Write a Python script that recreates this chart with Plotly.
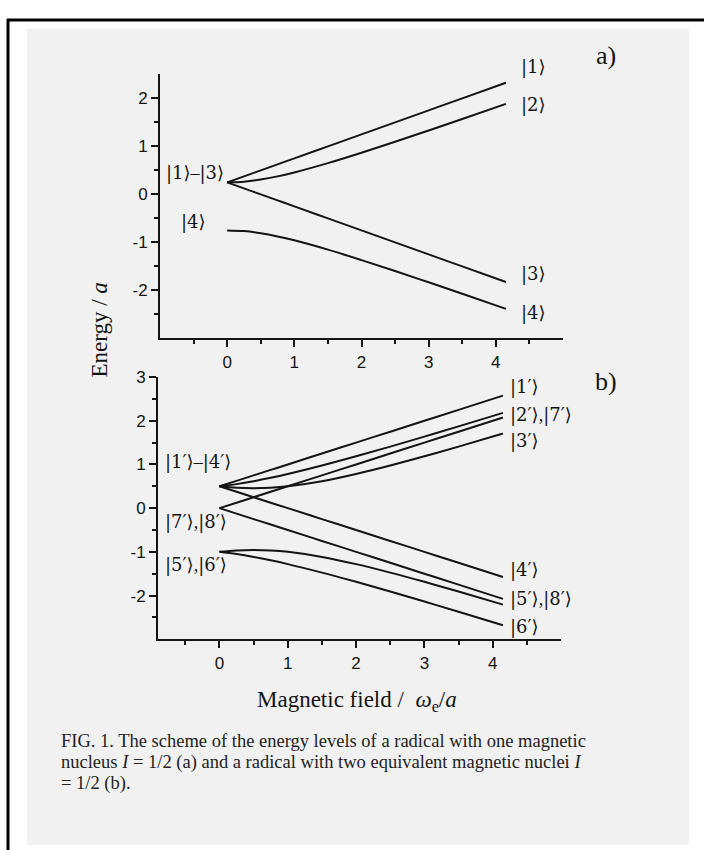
import plotly.graph_objects as go

W, H = 704, 850

# Magnetic field values (in units of a) at which the levels are sampled
field = [0, 0.25, 0.5, 0.75, 1, 1.5, 2, 2.5, 3, 3.5, 4.15]

# (a) one magnetic nucleus I = 1/2: energies in units of a
a_levels = {
    "1": [0.25, 0.375, 0.5, 0.625, 0.75, 1.0, 1.25, 1.5, 1.75, 2.0, 2.325],
    "2": [0.25, 0.265, 0.309, 0.375, 0.457, 0.651, 0.868, 1.096, 1.331, 1.570, 1.884],
    "3": [0.25, 0.125, 0.0, -0.125, -0.25, -0.5, -0.75, -1.0, -1.25, -1.5, -1.825],
    "4": [-0.75, -0.765, -0.809, -0.875, -0.957, -1.151, -1.368, -1.596, -1.831, -2.070, -2.384],
}

# (b) two equivalent magnetic nuclei I = 1/2
b_levels = {
    "1'": [0.5, 0.625, 0.75, 0.875, 1.0, 1.25, 1.5, 1.75, 2.0, 2.25, 2.575],
    "2'": [0.5, 0.550, 0.616, 0.694, 0.781, 0.975, 1.186, 1.408, 1.637, 1.871, 2.180],
    "3'": [0.5, 0.468, 0.457, 0.468, 0.5, 0.616, 0.781, 0.975, 1.186, 1.408, 1.707],
    "4'": [0.5, 0.375, 0.25, 0.125, 0.0, -0.25, -0.5, -0.75, -1.0, -1.25, -1.575],
    "5'": [-1.0, -0.968, -0.957, -0.968, -1.0, -1.116, -1.281, -1.475, -1.686, -1.908, -2.207],
    "6'": [-1.0, -1.050, -1.116, -1.194, -1.281, -1.475, -1.686, -1.908, -2.137, -2.371, -2.680],
    "7'": [0.0, 0.125, 0.25, 0.375, 0.5, 0.75, 1.0, 1.25, 1.5, 1.75, 2.075],
    "8'": [0.0, -0.125, -0.25, -0.375, -0.5, -0.75, -1.0, -1.25, -1.5, -1.75, -2.075],
}

x_major = [0, 1, 2, 3, 4]
x_minor = [-0.5, 0.5, 1.5, 2.5, 3.5, 4.5]
ya_major = [-2, -1, 0, 1, 2]
ya_minor = [-2.5, -1.5, -0.5, 0.5, 1.5]
yb_major = [-2, -1, 0, 1, 2, 3]
yb_minor = [-2.5, -1.5, -0.5, 0.5, 1.5, 2.5]

INK = "#141414"
SERIF = "Liberation Serif, Times New Roman, serif"
SANS = "Liberation Sans, Arial, sans-serif"


def ket(name):
    """Dirac ket |name⟩, drawn wholly in a serif face that carries the bracket."""
    return '<span style="font-family:DejaVu Serif">|' + name + "⟩</span>"


# State labels: (text, x, y, anchor, pixel shift up) in data units of each panel
a_labels = [
    (ket("1"), 4.35, 2.5, "left", 7),
    (ket("2"), 4.35, 1.86, "left", 0),
    (ket("3"), 4.35, -1.65, "left", 0),
    (ket("4"), 4.35, -2.47, "left", 0),
    (ket("1") + "–" + ket("3"), -0.02, 0.45, "right", 0),
    (ket("4"), -0.28, -0.58, "right", 0),
]
b_labels = [
    (ket("1′"), 4.22, 2.77, "left", 0),
    (ket("2′") + "," + ket("7′"), 4.22, 2.14, "left", 0),
    (ket("3′"), 4.22, 1.53, "left", 0),
    (ket("4′"), 4.22, -1.41, "left", 0),
    (ket("5′") + "," + ket("8′"), 4.22, -2.09, "left", 0),
    (ket("6′"), 4.22, -2.73, "left", 0),
    (ket("1′") + "–" + ket("4′"), -0.83, 1.05, "left", 0),
    (ket("7′") + "," + ket("8′"), -0.83, -0.31, "left", 0),
    (ket("5′") + "," + ket("6′"), -0.83, -1.30, "left", 0),
]


def px(x):
    return x / W


def py(y):
    return 1 - y / H


fig = go.Figure()

for vals in a_levels.values():
    fig.add_trace(go.Scatter(x=field, y=vals, mode="lines", xaxis="x", yaxis="y",
                             line=dict(color=INK, width=2, shape="spline"),
                             showlegend=False, hoverinfo="skip"))
for vals in b_levels.values():
    fig.add_trace(go.Scatter(x=field, y=vals, mode="lines", xaxis="x2", yaxis="y2",
                             line=dict(color=INK, width=2, shape="spline"),
                             showlegend=False, hoverinfo="skip"))


def axis(domain, rng, major, minor, anchor):
    return dict(
        domain=domain, range=rng, anchor=anchor,
        showline=True, linecolor=INK, linewidth=2,
        showgrid=False, zeroline=False,
        ticks="outside", ticklen=7, tickwidth=1.5, tickcolor=INK,
        tickvals=major, ticktext=[str(v) for v in major],
        tickfont=dict(family=SANS, size=17, color=INK),
        minor=dict(tickvals=minor, ticks="outside", ticklen=4,
                   tickwidth=1.5, tickcolor=INK, showgrid=False),
        fixedrange=True,
    )


fig.update_layout(
    width=W, height=H,
    margin=dict(l=0, r=0, t=0, b=0),
    paper_bgcolor="white",
    plot_bgcolor="rgba(0,0,0,0)",
    xaxis=axis([px(160), px(563)], [-1, 5], x_major, x_minor, "y"),
    yaxis=axis([py(333), py(66)], [-3, 2.5], ya_major, ya_minor, "x"),
    xaxis2=axis([px(158), px(561)], [-0.9, 5], x_major, x_minor, "y2"),
    yaxis2=axis([py(637), py(372)], [-3, 3], yb_major, yb_minor, "x2"),
)

# page background and frame
fig.add_shape(type="rect", xref="paper", yref="paper", layer="below",
              x0=px(27), x1=px(689), y0=py(845), y1=py(20),
              fillcolor="#f1f1f1", line=dict(width=0))
fig.add_shape(type="line", xref="paper", yref="paper",
              x0=px(7), x1=1, y0=py(11), y1=py(11),
              line=dict(color="black", width=3))
fig.add_shape(type="line", xref="paper", yref="paper",
              x0=px(8), x1=px(8), y0=py(10), y1=0,
              line=dict(color="black", width=3))

annotations = []
for text, x, y, anchor, shift in a_labels:
    annotations.append(dict(text=text, x=x, y=y, xref="x", yref="y", yshift=shift,
                            xanchor=anchor, yanchor="middle", showarrow=False,
                            font=dict(family=SERIF, size=18, color=INK)))
for text, x, y, anchor, shift in b_labels:
    annotations.append(dict(text=text, x=x, y=y, xref="x2", yref="y2", yshift=shift,
                            xanchor=anchor, yanchor="middle", showarrow=False,
                            font=dict(family=SERIF, size=18, color=INK)))

# panel tags
for tag, ty in (("a)", 47), ("b)", 376)):
    annotations.append(dict(text=tag, x=px(606), y=py(ty), xref="paper", yref="paper",
                            xanchor="center", yanchor="middle", showarrow=False,
                            font=dict(family=SERIF, size=26, color=INK)))

# axis titles
annotations.append(dict(text="Energy / <i>a</i>", x=px(100), y=py(325),
                        xref="paper", yref="paper", textangle=-90,
                        xanchor="center", yanchor="middle", showarrow=False,
                        font=dict(family=SERIF, size=23, color=INK)))
annotations.append(dict(text="Magnetic field /  <i>ω</i><sub>e</sub>/<i>a</i>",
                        x=px(357), y=py(699), xref="paper", yref="paper",
                        xanchor="center", yanchor="middle", showarrow=False,
                        font=dict(family=SERIF, size=23, color=INK)))

# caption
caption = [
    "FIG. 1. The scheme of the energy levels of a radical with one magnetic",
    "nucleus <i>I</i> = 1/2 (a) and a radical with two equivalent magnetic nuclei <i>I</i>",
    "= 1/2 (b).",
]
for i, line in enumerate(caption):
    annotations.append(dict(text=line, x=px(59), y=py(740 + 21.5 * i),
                            xref="paper", yref="paper", xanchor="left",
                            yanchor="middle", showarrow=False,
                            font=dict(family=SERIF, size=18.5, color="#222")))

fig.update_layout(annotations=annotations)

fig.write_html("out.html")
